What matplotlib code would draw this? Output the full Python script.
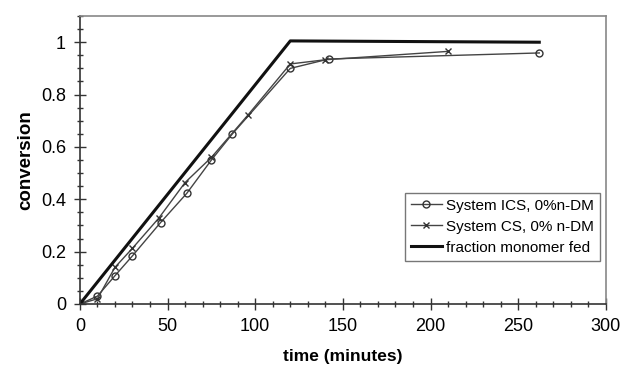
import matplotlib.pyplot as plt
from matplotlib.ticker import MultipleLocator

plt.rcParams['font.family'] = ['Liberation Sans', 'DejaVu Sans']

# System ICS, 0% n-DM (circles)
t_ics = [0, 10, 20, 30, 46, 61, 75, 87, 120, 142, 262]
x_ics = [0, 0.03, 0.108, 0.184, 0.311, 0.423, 0.55, 0.65, 0.90, 0.936, 0.959]

# System CS, 0% n-DM (crosses)
t_cs = [0, 10, 20, 30, 45, 60, 75, 96, 120, 140, 210]
x_cs = [0, 0.02, 0.14, 0.213, 0.328, 0.464, 0.56, 0.723, 0.917, 0.933, 0.965]

# fraction monomer fed
t_fed = [0, 120, 262]
x_fed = [0, 1.005, 1.0]

fig = plt.figure(figsize=(6.24, 3.73), dpi=100)
ax = fig.add_axes([0.128, 0.185, 0.843, 0.772])

ax.plot(t_ics, x_ics, color='#444444', lw=1.0, marker='o', ms=5,
        mfc='none', mec='#333333', mew=1.0, label='System ICS, 0%n-DM')
ax.plot(t_cs, x_cs, color='#444444', lw=1.0, marker='x', ms=5,
        mec='#333333', mew=1.0, label='System CS, 0% n-DM')
ax.plot(t_fed, x_fed, color='#111111', lw=2.2, label='fraction monomer fed')

ax.set_xlim(0, 300)
ax.set_ylim(0, 1.1)
ax.xaxis.set_major_locator(MultipleLocator(50))
ax.xaxis.set_minor_locator(MultipleLocator(10))
ax.yaxis.set_major_locator(MultipleLocator(0.2))
ax.yaxis.set_minor_locator(MultipleLocator(0.05))
ax.set_yticks([0, 0.2, 0.4, 0.6, 0.8, 1.0])
ax.set_yticklabels(['0', '0.2', '0.4', '0.6', '0.8', '1'])

for s in ax.spines.values():
    s.set_color('#888888')
    s.set_linewidth(1.2)
ax.spines['left'].set_color('#333333')
ax.spines['bottom'].set_color('#333333')

ax.tick_params(which='major', direction='inout', length=8, width=1.0,
               color='#333333', labelsize=13, pad=6)
ax.tick_params(which='minor', direction='inout', length=4, width=1.0,
               color='#333333')

ax.set_xlabel('time (minutes)', fontsize=12.5, fontweight='bold', labelpad=10)
ax.set_ylabel('conversion', fontsize=13.5, fontweight='bold', labelpad=5)

leg = ax.legend(loc='lower right', bbox_to_anchor=(0.995, 0.14), fontsize=11,
                frameon=True, fancybox=False, edgecolor='#555555',
                handlelength=2.0, handletextpad=0.3, borderpad=0.4,
                labelspacing=0.45, borderaxespad=0.2)
leg.get_frame().set_linewidth(1.0)

fig.savefig('out.png', dpi=100)
